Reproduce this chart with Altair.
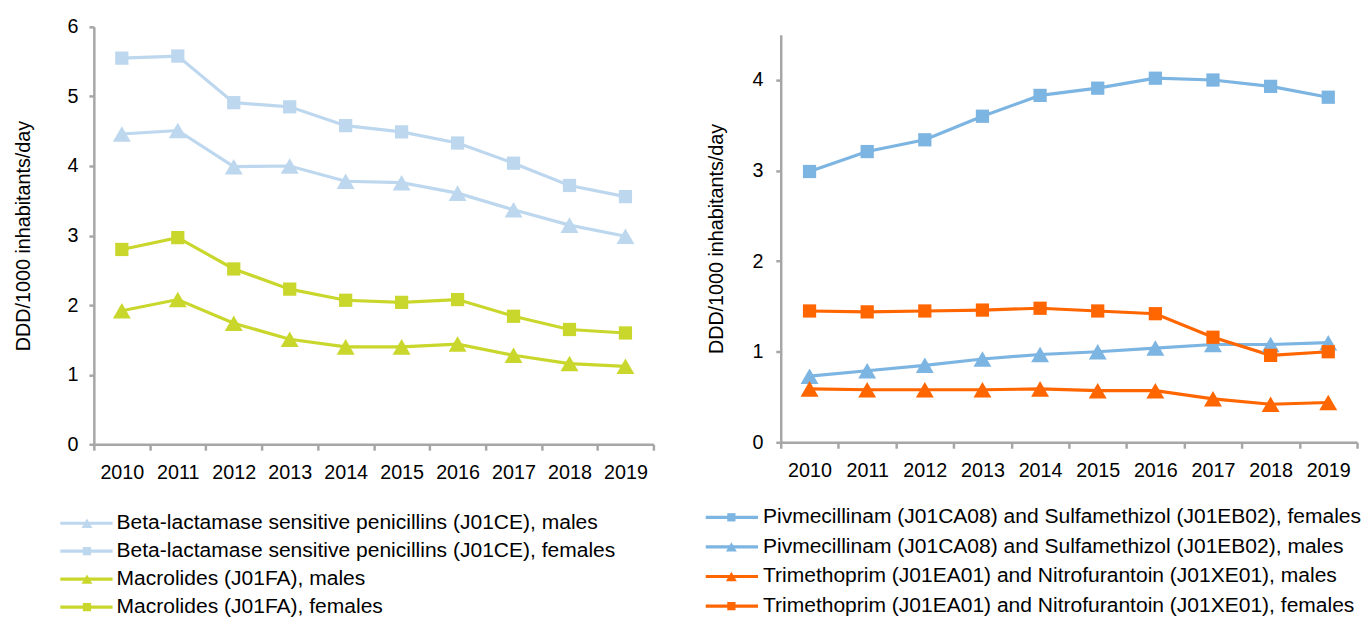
import altair as alt
import pandas as pd

years = [str(y) for y in range(2010, 2020)]

# Left panel series
bl_males = [4.46, 4.51, 3.99, 4.00, 3.78, 3.76, 3.61, 3.37, 3.15, 2.99]
bl_females = [5.55, 5.58, 4.91, 4.85, 4.58, 4.49, 4.33, 4.04, 3.72, 3.56]
mac_males = [1.92, 2.08, 1.74, 1.51, 1.40, 1.40, 1.44, 1.28, 1.16, 1.12]
mac_females = [2.80, 2.97, 2.52, 2.23, 2.07, 2.04, 2.08, 1.84, 1.65, 1.60]

# Right panel series
piv_females = [2.99, 3.21, 3.34, 3.60, 3.83, 3.91, 4.02, 4.00, 3.93, 3.81]
piv_males = [0.73, 0.79, 0.85, 0.92, 0.97, 1.00, 1.04, 1.08, 1.08, 1.10]
tri_males = [0.59, 0.58, 0.58, 0.58, 0.59, 0.57, 0.57, 0.48, 0.42, 0.44]
tri_females = [1.45, 1.44, 1.45, 1.46, 1.48, 1.45, 1.42, 1.16, 0.96, 1.00]

left_labels = [
    "Beta-lactamase sensitive penicillins (J01CE), males",
    "Beta-lactamase sensitive penicillins (J01CE), females",
    "Macrolides (J01FA), males",
    "Macrolides (J01FA), females",
]
left_series = [bl_males, bl_females, mac_males, mac_females]
left_colors = ["#bdd7ee", "#bdd7ee", "#c9d72c", "#c9d72c"]
left_shapes = ["triangle-up", "square", "triangle-up", "square"]

right_labels = [
    "Pivmecillinam (J01CA08) and Sulfamethizol (J01EB02), females",
    "Pivmecillinam (J01CA08) and Sulfamethizol (J01EB02), males",
    "Trimethoprim (J01EA01) and Nitrofurantoin (J01XE01), males",
    "Trimethoprim (J01EA01) and Nitrofurantoin (J01XE01), females",
]
right_series = [piv_females, piv_males, tri_males, tri_females]
right_colors = ["#7cb4e2", "#7cb4e2", "#ff6600", "#ff6600"]
right_shapes = ["square", "triangle-up", "triangle-up", "square"]

y_title = "DDD/1000 inhabitants/day"
FONT = "Liberation Sans"
AXIS_GREY = "#a6a6a6"


def long_df(labels, series, shapes):
    rows = []
    for lab, vals, shp in zip(labels, series, shapes):
        for yr, v in zip(years, vals):
            rows.append({"year": yr, "value": v, "series": lab, "marker": shp})
    return pd.DataFrame(rows)


def plot_panel(labels, series, colors, shapes, ymax, yticks, width, height,
               title_pad, y_label_pad, y_range=None):
    df = long_df(labels, series, shapes)
    color = alt.Color("series:N", scale=alt.Scale(domain=labels, range=colors), legend=None)
    x = alt.X(
        "year:O",
        bandPosition=0.5,
        scale=alt.Scale(type="band", paddingInner=0, paddingOuter=0),
        axis=alt.Axis(title=None, labelAngle=0, tickBand="extent", tickSize=6,
                      labelPadding=13),
    )
    scale_kw = dict(domain=[0, ymax], nice=False, zero=True)
    if y_range is not None:
        scale_kw["range"] = y_range
    y = alt.Y(
        "value:Q",
        scale=alt.Scale(**scale_kw),
        axis=alt.Axis(values=yticks, title=y_title, tickSize=5,
                      labelPadding=y_label_pad, titlePadding=title_pad, format="d"),
    )
    base = alt.Chart(df)
    line = base.mark_line(strokeWidth=3.2).encode(x=x, y=y, color=color, detail="series:N")
    tri = base.transform_filter(alt.datum.marker == "triangle-up").mark_point(
        shape="triangle-up", filled=True, opacity=1, size=330
    ).encode(x=x, y=y, color=color)
    sq = base.transform_filter(alt.datum.marker == "square").mark_point(
        shape="square", filled=True, opacity=1, size=180
    ).encode(x=x, y=y, color=color)
    return alt.layer(line, tri, sq).properties(width=width, height=height)


def legend_panel(labels, colors, shapes, width, height, line_x, line_x2, mark_x, text_x):
    ldf = pd.DataFrame({"series": labels, "marker": shapes})
    color = alt.Color("series:N", scale=alt.Scale(domain=labels, range=colors), legend=None)
    y = alt.Y("series:N", sort=labels, scale=alt.Scale(type="point", padding=0), axis=None)
    base = alt.Chart(ldf)
    rule = base.mark_rule(strokeWidth=3.2).encode(
        x=alt.value(line_x), x2=alt.value(line_x2), y=y, color=color)
    tri = base.transform_filter(alt.datum.marker == "triangle-up").mark_point(
        shape="triangle-up", filled=True, opacity=1, size=120
    ).encode(x=alt.value(mark_x), y=y, color=color)
    sq = base.transform_filter(alt.datum.marker == "square").mark_point(
        shape="square", filled=True, opacity=1, size=70
    ).encode(x=alt.value(mark_x), y=y, color=color)
    txt = base.mark_text(align="left", baseline="middle", fontSize=21.3, font=FONT,
                         color="black").encode(x=alt.value(text_x), y=y, text="series:N")
    return alt.layer(rule, tri, sq, txt).properties(width=width, height=height)


left_plot = plot_panel(left_labels, left_series, left_colors, left_shapes,
                       6, [0, 1, 2, 3, 4, 5, 6], 567, 423, 34, 11)
left_legend = legend_panel(left_labels, left_colors, left_shapes, 567, 85,
                           -34, 19, -7, 23)

right_plot = plot_panel(right_labels, right_series, right_colors, right_shapes,
                        4.5, [0, 1, 2, 3, 4], 584, 421, 26, 13, y_range=[421, 8])
right_legend = legend_panel(right_labels, right_colors, right_shapes, 584, 90,
                            -76, -23, -50, -18)

chart = alt.hconcat(
    alt.vconcat(left_plot, left_legend, spacing=30),
    alt.vconcat(right_plot, right_legend, spacing=26),
    spacing=49,
).resolve_scale(
    color="independent"
).properties(
    padding={"left": 5, "top": 5, "right": 0, "bottom": 0},
    background="white",
).configure_view(stroke=None).configure_axis(
    grid=False,
    domainColor=AXIS_GREY,
    domainWidth=2.5,
    tickColor=AXIS_GREY,
    tickWidth=2.5,
    labelFont=FONT,
    labelFontSize=20,
    labelColor="black",
    titleFont=FONT,
    titleFontSize=20,
    titleFontWeight="normal",
    titleColor="black",
)

chart.save("out.html", embed_options={"renderer": "svg", "actions": False})
